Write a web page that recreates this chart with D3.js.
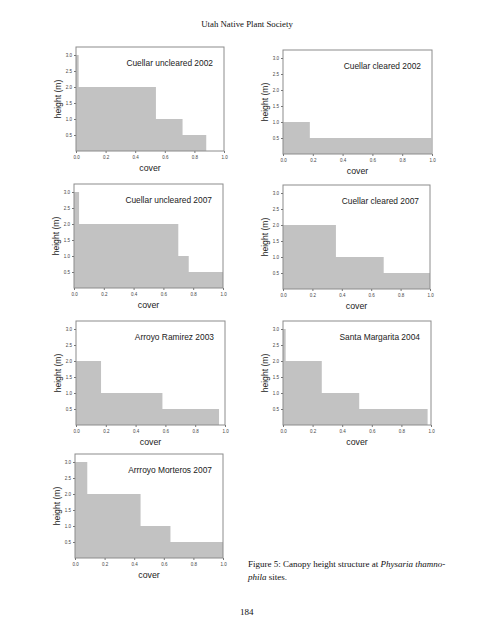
<!DOCTYPE html>
<html>
<head>
<meta charset="utf-8">
<script src="https://cdn.jsdelivr.net/npm/d3@7/dist/d3.min.js"></script>
<style>
html,body{margin:0;padding:0;background:#fff;}
svg{display:block;}
</style>
</head>
<body>
<svg id="chart" width="495" height="640"></svg>
<script>
// ---- data ----
const siteNames = ["Cuellar uncleared 2002","Cuellar cleared 2002","Cuellar uncleared 2007","Cuellar cleared 2007","Arroyo Ramirez 2003","Santa Margarita 2004","Arrroyo Morteros 2007"];
const heightClasses = [3.0, 2.0, 1.0, 0.5];
// cover reached at each height class (0 = absent)
const coverCU2002 = [0.018, 0.54, 0.72, 0.88];
const coverCC2002 = [0, 0, 0.18, 0.995];
const coverCU2007 = [0.034, 0.70, 0.77, 1.0];
const coverCC2007 = [0, 0.36, 0.685, 1.0];
const coverAR2003 = [0, 0.168, 0.58, 0.96];
const coverSM2004 = [0.018, 0.262, 0.515, 0.977];
const coverAM2007 = [0.083, 0.443, 0.645, 1.0];
const coverSets = [coverCU2002, coverCC2002, coverCU2007, coverCC2007, coverAR2003, coverSM2004, coverAM2007];
const yTicks = [0.5, 1.0, 1.5, 2.0, 2.5, 3.0];
const xTicks = [0.0, 0.2, 0.4, 0.6, 0.8, 1.0];

// ---- layout ----
const frames = [
  {x:76, y:47, w:148, h:104},
  {x:283, y:50, w:149, h:104},
  {x:74, y:184, w:149, h:104},
  {x:283, y:185, w:147, h:104},
  {x:76, y:321, w:149, h:104},
  {x:283, y:321, w:148, h:104},
  {x:75, y:454, w:148, h:104}
];

const sans = "Liberation Sans, Arial, sans-serif";
const serif = "Liberation Serif, Times New Roman, serif";
const svg = d3.select("#chart");

svg.append("text").attr("x", 247).attr("y", 27).attr("text-anchor","middle")
  .attr("font-family", serif).attr("font-size", 8.8).attr("fill","#111")
  .text("Utah Native Plant Society");

frames.forEach((f, i) => {
  const g = svg.append("g").attr("transform", `translate(${f.x},${f.y})`);
  const x = d3.scaleLinear().domain([0,1]).range([0, f.w]);
  const y = d3.scaleLinear().domain([0,3.25]).range([f.h, 0]);
  const data = heightClasses.map((h, k) => ({h, c: coverSets[i][k]})).filter(d => d.c > 0);

  g.selectAll("rect.bar").data(data).enter().append("rect")
    .attr("class","bar")
    .attr("x", x(0)).attr("y", d => y(d.h))
    .attr("width", d => x(d.c) - x(0))
    .attr("height", d => y(0) - y(d.h))
    .attr("fill", "#c2c2c2");

  g.append("rect").attr("x",0).attr("y",0).attr("width",f.w).attr("height",f.h)
    .attr("fill","none").attr("stroke","#8c8c8c").attr("stroke-width",1);

  const yAxis = d3.axisLeft(y).tickValues(yTicks).tickFormat(d3.format(".1f")).tickSize(2).tickPadding(2);
  const ya = g.append("g").call(yAxis);
  ya.select(".domain").remove();
  ya.selectAll("text").attr("font-size", 4.5).attr("font-family", sans).attr("fill","#444");
  ya.selectAll("line").attr("stroke","#777");

  const xAxis = d3.axisBottom(x).tickValues(xTicks).tickFormat(d3.format(".1f")).tickSize(2).tickPadding(3);
  const xa = g.append("g").attr("transform",`translate(0,${f.h})`).call(xAxis);
  xa.select(".domain").remove();
  xa.selectAll("text").attr("font-size", 4.5).attr("font-family", sans).attr("fill","#444");
  xa.selectAll("line").attr("stroke","#777");

  g.append("text").attr("x", f.w - 11).attr("y", 19).attr("text-anchor","end")
    .attr("font-family", sans).attr("font-size", 8.4)
    .attr("fill","#222").text(siteNames[i]);

  g.append("text").attr("x", f.w/2).attr("y", f.h + 20).attr("text-anchor","middle")
    .attr("font-family", sans).attr("font-size", 8.8)
    .attr("fill","#222").text("cover");

  g.append("text").attr("transform", `translate(${-15},${f.h/2}) rotate(-90)`)
    .attr("text-anchor","middle")
    .attr("font-family", sans).attr("font-size", 8.6)
    .attr("fill","#222").text("height (m)");
});

const cap = svg.append("text").attr("font-family", serif).attr("font-size", 9).attr("fill","#111");
const l1 = cap.append("tspan").attr("x", 248).attr("y", 567);
l1.append("tspan").text("Figure 5: Canopy height structure at ");
l1.append("tspan").attr("font-style","italic").text("Physaria thamno-");
const l2 = cap.append("tspan").attr("x", 248).attr("y", 580);
l2.append("tspan").attr("font-style","italic").text("phila");
l2.append("tspan").text(" sites.");

svg.append("text").attr("x", 240).attr("y", 615)
  .attr("font-family", serif).attr("font-size", 9).attr("fill","#111")
  .text("184");
</script>
</body>
</html>
